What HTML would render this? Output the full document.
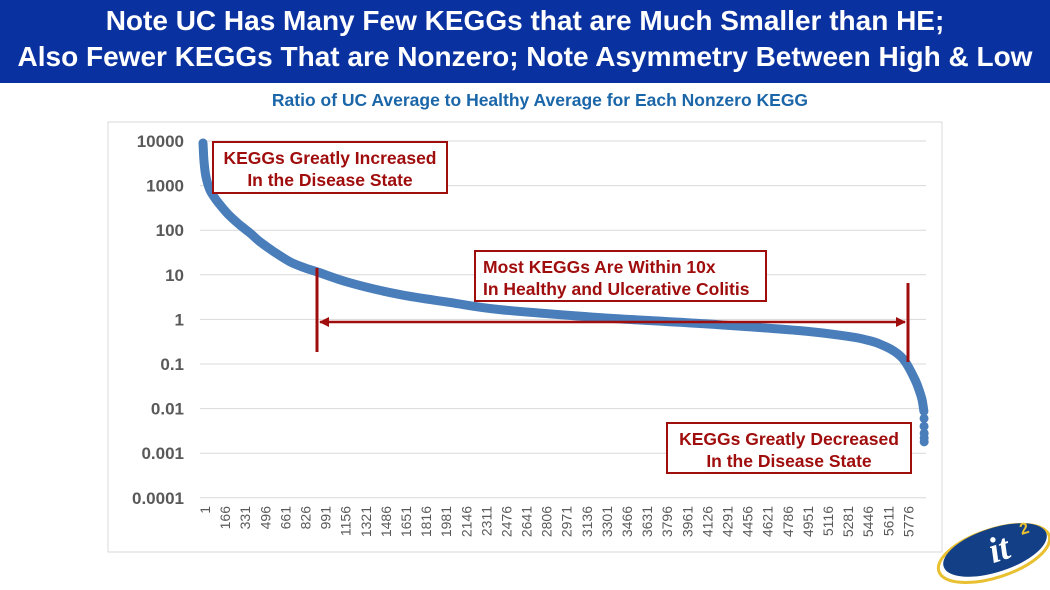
<!DOCTYPE html>
<html><head><meta charset="utf-8"><style>
body{margin:0;width:1050px;height:590px;overflow:hidden;background:#fff;font-family:"Liberation Sans",sans-serif}
#title{position:absolute;left:0;top:0;width:1050px;height:83px;background:#0a31a0;color:#fff;font-weight:bold;font-size:28px;text-align:center;line-height:36px;padding-top:3px;box-sizing:border-box;white-space:nowrap}
#sub{position:absolute;left:15px;width:1050px;top:90px;text-align:center;color:#1a66a8;font-weight:bold;font-size:17.5px}
svg{position:absolute;left:0;top:0}
</style></head><body>
<div id="title">Note UC Has Many Few KEGGs that are Much Smaller than HE;<br>Also Fewer KEGGs That are Nonzero; Note Asymmetry Between High &amp; Low</div>
<div id="sub">Ratio of UC Average to Healthy Average for Each Nonzero KEGG</div>
<svg id="chart" width="1050" height="590"></svg>
<script>
const yTicks=[10000,1000,100,10,1,0.1,0.01,0.001,0.0001];
const yTickLabels=["10000","1000","100","10","1","0.1","0.01","0.001","0.0001"];
const xTickLabels=[];for(let v=1;v<=5776;v+=165)xTickLabels.push(v);
const curveIdx=[1,9,25,58,100,141,220,305,390,469,590,715,830,937,1208,1618,2029,2439,3260,4081,4902,5313,5460,5559,5680,5764,5846,5880,5904,5920];
const curveVal=[9000,3500,1600,800,520,370,210,130,85,55,32,19.6,14.5,11.7,6.6,3.6,2.4,1.66,1.1,0.81,0.56,0.41,0.34,0.28,0.19,0.115,0.045,0.026,0.016,0.0087];
const tailIdx=[5921,5921,5922,5922,5922];
const tailVal=[0.006,0.004,0.0028,0.0022,0.0018];
const NS="http://www.w3.org/2000/svg";
const svg=document.getElementById('chart');
const yS=v=>141+(4-Math.log10(v))*44.6;
const xS=i=>203+(i-1)*0.1218;
function mk(t,a,p){const e=document.createElementNS(NS,t);for(const k in a)e.setAttribute(k,a[k]);(p||svg).appendChild(e);return e;}
let e=mk('rect',{x:108,y:122,width:834,height:430,fill:'none',stroke:'#d9d9d9'});


yTicks.forEach((v,k)=>{
 let g=mk('line',{x1:200,x2:926,y1:yS(v),y2:yS(v),stroke:'#d9d9d9'});
 
 
 let t=mk('text',{x:184,y:yS(v)+6,'text-anchor':'end','font-size':17,fill:'#595959','font-weight':'bold'});
 t.textContent=yTickLabels[k];
 
 
});
xTickLabels.forEach(v=>{
 const x=xS(v)+2;
 let t=mk('text',{x:0,y:0,transform:`translate(${x+5},506) rotate(-90)`,'text-anchor':'end','font-size':14,fill:'#595959'});
 t.textContent=v;
 
 
});
const P=curveIdx.map((i,k)=>[xS(i),yS(curveVal[k])]);
let d='M'+P[0][0].toFixed(1)+' '+P[0][1].toFixed(1);
for(let k=0;k<P.length-1;k++){
 const p0=P[Math.max(0,k-1)],p1=P[k],p2=P[k+1],p3=P[Math.min(P.length-1,k+2)];
 const c1=[p1[0]+(p2[0]-p0[0])/6,p1[1]+(p2[1]-p0[1])/6];
 const c2=[p2[0]-(p3[0]-p1[0])/6,p2[1]-(p3[1]-p1[1])/6];
 d+=` C${c1[0].toFixed(1)} ${c1[1].toFixed(1)} ${c2[0].toFixed(1)} ${c2[1].toFixed(1)} ${p2[0].toFixed(1)} ${p2[1].toFixed(1)}`;
}
let c=mk('path',{d:d,fill:'none',stroke:'#4a7ebb','stroke-width':9,'stroke-linecap':'round','stroke-linejoin':'round'});


tailIdx.forEach((i,k)=>{
 let dd=mk('circle',{cx:xS(i),cy:yS(tailVal[k]),r:4.5,fill:'#4a7ebb'});
 
 
});
const red='#a00d0d';
function box(x,y,w,h,lines,anchor,name){
 let r=mk('rect',{x:x,y:y,width:w,height:h,fill:'#fff',stroke:red,'stroke-width':2});
 
 
 lines.forEach((s,k)=>{
  let t=mk('text',{x:anchor==='middle'?x+w/2:x+8,y:y+22+k*22,'text-anchor':anchor,'font-size':17.5,'font-weight':'bold',fill:red});
  t.textContent=s;
  
  
 });
}
box(213,142,234,51,["KEGGs Greatly Increased","In the Disease State"],'middle','increased-annotation');
box(475,251,291,50,["Most KEGGs Are Within 10x","In Healthy and Ulcerative Colitis"],'start','within-10x-annotation');
box(667,423,244,50,["KEGGs Greatly Decreased","In the Disease State"],'middle','decreased-annotation');
[[317,268,352],[908,283,362]].forEach(a=>{
 let l=mk('line',{x1:a[0],x2:a[0],y1:a[1],y2:a[2],stroke:red,'stroke-width':3});
 
 
});
let h=mk('line',{x1:320,x2:905,y1:322,y2:322,stroke:red,'stroke-width':2.5});


let a1=mk('path',{d:'M319 322 L329 317 L329 327 Z',fill:red});


let a2=mk('path',{d:'M906 322 L896 317 L896 327 Z',fill:red});


let lg=mk('g',{transform:'translate(995,550) rotate(-18)'});


mk('ellipse',{cx:-2,cy:3,rx:58,ry:24,fill:'none',stroke:'#e8c030','stroke-width':3},lg);
mk('ellipse',{cx:0,cy:0,rx:54,ry:22,fill:'#123f86'},lg);
let lt=mk('text',{x:4,y:12,'text-anchor':'middle','font-size':36,'font-style':'italic','font-weight':'bold',fill:'#fff','font-family':'Liberation Serif'},lg);
lt.textContent='it';
let l2=mk('text',{x:30,y:-6,'font-size':16,'font-weight':'bold',fill:'#e8c030'},lg);
l2.textContent='2';
</script>
</body></html>
